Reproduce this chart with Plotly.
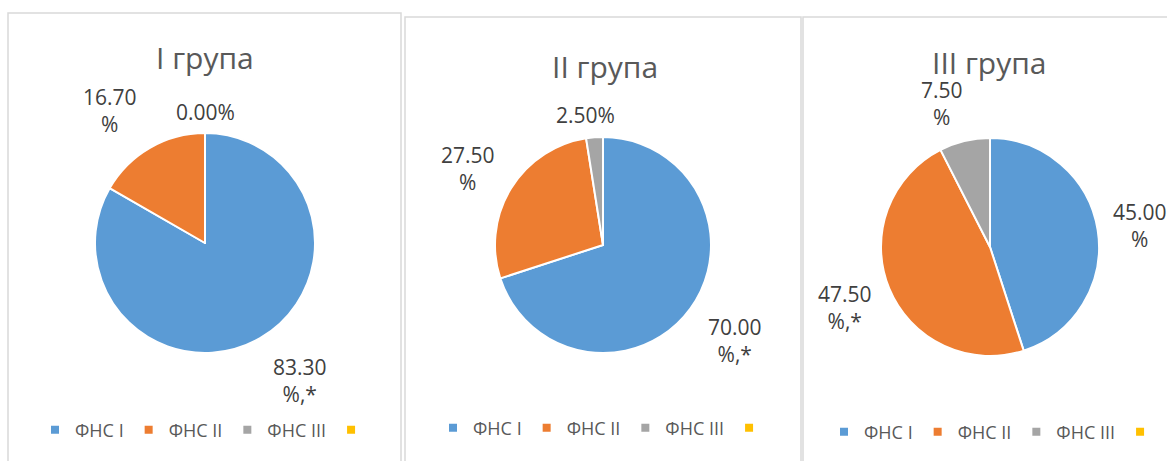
import plotly.graph_objects as go

W, H = 1167, 461

# ---- data ----
categories = ["ФНС I", "ФНС II", "ФНС III", ""]
titles = ["I група", "II група", "III група"]
group1 = [83.3, 16.7, 0.0, 0.0]
group2 = [70.0, 27.5, 2.5, 0.0]
group3 = [45.0, 47.5, 7.5, 0.0]
labels1 = ["83.30<br>%,*", "16.70<br>%", "0.00%"]
labels2 = ["70.00<br>%,*", "27.50<br>%", "2.50%"]
labels3 = ["45.00<br>%", "47.50<br>%,*", "7.50<br>%"]

colors = ["#5B9BD5", "#ED7D31", "#A5A5A5", "#FFC000"]
FONT = "Open Sans, Noto Sans, sans-serif"

def px(x):
    return x / W

def py(y):
    return 1 - y / H

# layout geometry (pixels): pie centre x, centre y, radius
pies = [(205, 243, 110), (603, 245, 108), (990, 247, 109)]
title_pos = [(205, 58), (605, 66), (990, 62)]
# label anchor positions (pixels) for slices I, II, III
label_pos = [
    [(300, 380), (110, 111), (205, 112)],
    [(735, 340), (468, 169), (585, 115)],
    [(1140, 226), (845, 307), (942, 103)],
]
legend_x = [35, 433, 824]
legend_y = [430, 428, 432]
panels = [(8, 13, 401, 470), (405, 17, 801, 470), (803, 17, 1175, 470)]

values = [group1, group2, group3]
texts = [labels1, labels2, labels3]

fig = go.Figure()
annotations = []
shapes = []
legends = {}
for i in range(3):
    cx, cy, r = pies[i]
    lname = "legend" if i == 0 else f"legend{i+1}"
    fig.add_trace(go.Pie(
        labels=[c if c else "—" for c in categories],
        values=values[i],
        sort=False,
        direction="clockwise",
        rotation=0,
        textinfo="none",
        hoverinfo="label+value",
        marker=dict(colors=colors, line=dict(color="white", width=2)),
        domain=dict(x=[px(cx - r), px(cx + r)], y=[py(cy + r), py(cy - r)]),
        showlegend=False,
    ))
    # legend entries for this panel
    for k, cat in enumerate(categories):
        fig.add_trace(go.Scatter(
            x=[None], y=[None], mode="markers", name=cat,
            marker=dict(symbol="square", size=8, color=colors[k]),
            legend=lname, showlegend=True, hoverinfo="skip",
        ))
    legends[lname] = dict(
        orientation="h",
        x=px(legend_x[i]), xanchor="left",
        y=py(legend_y[i]), yanchor="middle",
        font=dict(family=FONT, size=18, color="#595959"),
        itemwidth=30,
        bgcolor="rgba(0,0,0,0)",
        itemclick=False, itemdoubleclick=False,
    )
    tx, ty = title_pos[i]
    annotations.append(dict(
        x=px(tx), y=py(ty), xref="paper", yref="paper", showarrow=False,
        text=titles[i], font=dict(family=FONT, size=30, color="#595959"),
        xanchor="center", yanchor="middle",
    ))
    for j, t in enumerate(texts[i]):
        lx, ly = label_pos[i][j]
        annotations.append(dict(
            x=px(lx), y=py(ly), xref="paper", yref="paper", showarrow=False,
            text=t, font=dict(family=FONT, size=21, color="#404040"),
            xanchor="center", yanchor="middle", align="center",
        ))
    x0, y0, x1, y1 = panels[i]
    shapes.append(dict(
        type="rect", xref="paper", yref="paper",
        x0=px(x0), x1=px(x1), y0=py(y1), y1=py(y0),
        line=dict(color="#D9D9D9", width=1.5), fillcolor="rgba(0,0,0,0)",
        layer="below",
    ))

fig.update_layout(
    width=W, height=H,
    margin=dict(l=0, r=0, t=0, b=0, autoexpand=False),
    paper_bgcolor="white",
    plot_bgcolor="rgba(0,0,0,0)",
    xaxis=dict(visible=False),
    yaxis=dict(visible=False),
    annotations=annotations,
    shapes=shapes,
    **legends,
)

fig.write_html("out.html", config={"displayModeBar": False, "responsive": False})
with open("out.html", encoding="utf-8") as f:
    html = f.read()
html = html.replace("<head>", "<head><style>html,body{margin:0;padding:0;overflow:hidden}</style>", 1)
with open("out.html", "w", encoding="utf-8") as f:
    f.write(html)
